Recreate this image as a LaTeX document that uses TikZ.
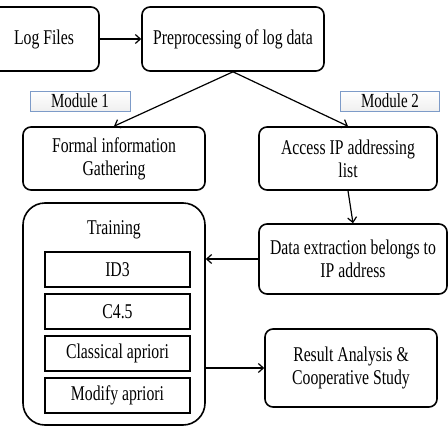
\documentclass[tikz,border=0pt]{standalone}
\usepackage{fontspec}
\setmainfont{Liberation Serif}[FakeStretch=0.75]
\usepackage{tikz}
\usetikzlibrary{calc}
\usetikzlibrary{shapes}
\usetikzlibrary{arrows.meta}
\definecolor{modblue}{RGB}{125,155,200}

\tikzset{
  box/.style={draw,line width=1.6pt,rounded corners=8pt,align=center,inner sep=2pt},
  algo/.style={draw,line width=2pt,minimum width=145pt,minimum height=35pt,inner sep=0pt},
  modlabel/.style={draw=modblue,line width=0.6pt,top color=white,bottom color=gray!12,
    minimum height=20pt,inner sep=0pt,font=\fontsize{20}{22}\selectfont},
  arrow/.style={-{Straight Barb[length=5pt,width=9pt]},line width=1.2pt}
}

\begin{document}
\begin{tikzpicture}[x=1pt,y=1pt,font=\fontsize{21}{23}\selectfont]
      \useasboundingbox (0,0) rectangle (448,-426);
      \node[box,minimum width=110pt,minimum height=64pt] (logfiles) at (44,-39) {Log Files};
      \node[box,minimum width=182pt,minimum height=64pt] (prep) at (233,-39) {Preprocessing of log data};
      \node[modlabel,minimum width=100pt] (mod1) at (80,-101) {Module 1};
      \node[modlabel,minimum width=99pt] (mod2) at (390,-101) {Module 2};
      \node[box,minimum width=182pt,minimum height=63pt] (formal) at (114,-158.5) {Formal information\\Gathering};
      \node[box,minimum width=178pt,minimum height=63pt] (access) at (348,-158.5) {Access IP addressing\\list};
      \node[box,minimum width=188pt,minimum height=70pt] (extract) at (353,-259) {Data extraction belongs to\\IP address};
      \node[box,rounded corners=22pt,minimum width=182pt,minimum height=222pt] (training) at (114,-314) {};
      \node (traininglabel) at (114,-230) {Training};
      \foreach \name/\y/\txt in {id3/269.5/ID3,c45/311.5/C4.5,classical/353.5/Classical apriori,modify/395.5/Modify apriori} {
        \node[algo] (\name) at (117.5,-\y) {\txt};
      }
      \node[box,minimum width=172pt,minimum height=78pt] (result) at (351,-368) {Result Analysis \&\\Cooperative Study};
      \draw[arrow] (logfiles) -- (prep);
      \draw[arrow] (prep.south) -- (formal.north);
      \draw[arrow] (prep.south) -- (access.north);
      \draw[arrow] (access.south) -- (extract.north);
      \draw[arrow] (extract.west) -- (extract.west -| training.east);
      \draw[arrow] (training.east |- result.west) -- (result.west);
    \end{tikzpicture}
\end{document}
